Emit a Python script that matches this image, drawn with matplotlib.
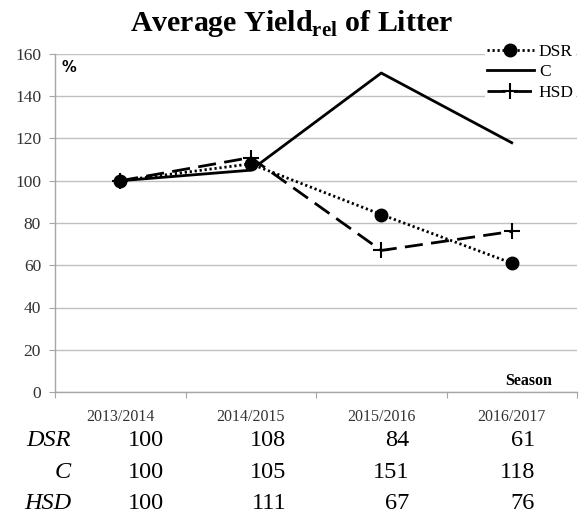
import matplotlib
matplotlib.use("Agg")
import matplotlib.pyplot as plt

seasons = ["2013/2014", "2014/2015", "2015/2016", "2016/2017"]
series_names = ["DSR", "C", "HSD"]
dsr = [100, 108, 84, 61]
c_vals = [100, 105, 151, 118]
hsd = [100, 111, 67, 76]
y_ticks = [0, 20, 40, 60, 80, 100, 120, 140, 160]

plt.rcParams['font.family'] = ['Liberation Serif', 'DejaVu Serif']
plt.rcParams['mathtext.fontset'] = 'custom'
plt.rcParams['mathtext.rm'] = 'Liberation Serif'
plt.rcParams['mathtext.bf'] = 'Liberation Serif:bold'

W, H = 583, 515
fig = plt.figure(figsize=(W / 100, H / 100), dpi=100)
L, R, T, B = 55, 577, 54, 392
ax = fig.add_axes([L / W, 1 - B / H, (R - L) / W, (B - T) / H])

x = list(range(len(seasons)))
grid_c = '#c0c0c0'
ax.set_xlim(-0.5, len(seasons) - 0.5)
ax.set_ylim(0, 160)
ax.set_yticks(y_ticks)
ax.yaxis.grid(True, color=grid_c, lw=1.0)
ax.set_axisbelow(True)
for s in ['top', 'right']:
    ax.spines[s].set_visible(False)
for s in ['left', 'bottom']:
    ax.spines[s].set_color('#a6a6a6')
    ax.spines[s].set_linewidth(1.0)
ax.tick_params(axis='y', length=4, color='#a6a6a6', pad=6, labelsize=12.5, labelcolor='#333333')
ax.set_xticks([i - 0.5 for i in range(len(seasons) + 1)])
ax.set_xticklabels([])
ax.set_xticks(x, minor=True)
ax.set_xticklabels(seasons, minor=True)
ax.tick_params(axis='x', which='major', length=4, color='#a6a6a6', direction='out')
ax.tick_params(axis='x', which='minor', length=0, pad=12, labelsize=11.5, labelcolor='#333333')

lw = 2.0
ax.plot(x, dsr, color='black', lw=lw, linestyle=(0, (0.8, 1.0)), marker='o',
        markersize=9, label=series_names[0], zorder=3)
ax.plot(x, c_vals, color='black', lw=lw, linestyle='-', label=series_names[1], zorder=3)
ax.plot(x, hsd, color='black', lw=lw, linestyle=(0, (6.5, 3)), marker='+',
        markersize=11, markeredgewidth=1.5, label=series_names[2], zorder=3)

leg = fig.legend(loc='upper left', bbox_to_anchor=(485 / W, 1 - 42 / H),
                 frameon=True, fancybox=False, edgecolor='none', facecolor='white',
                 framealpha=1.0, fontsize=12.5, handlelength=2.7, handletextpad=0.3,
                 labelspacing=0.25, borderpad=0.1, borderaxespad=0)

ax.text(62 / W, 1 - 68 / H, '%', transform=fig.transFigure, fontsize=10.5,
        fontweight='bold', va='center', ha='left', family='DejaVu Sans')
ax.text(552 / W, 1 - 381 / H, 'Season', transform=fig.transFigure, fontsize=11.5,
        fontweight='bold', va='center', ha='right')

fig.text(0.5, 1 - 31 / H, r'Average Yield$_{\mathbf{rel}}$ of Litter', ha='center',
         va='baseline', fontsize=21.5, fontweight='bold')

# data table below the chart
rows = [dsr, c_vals, hsd]
base_y = [446, 478, 509]
col_right = [164, 286, 409, 535]
for name, vals, by in zip(series_names, rows, base_y):
    fig.text(71 / W, 1 - by / H, name, ha='right', va='baseline', fontsize=17.5, style='italic')
    for v, cx in zip(vals, col_right):
        fig.text(cx / W, 1 - by / H, str(v), ha='right', va='baseline', fontsize=17.5)

fig.savefig('out.png', dpi=100)
